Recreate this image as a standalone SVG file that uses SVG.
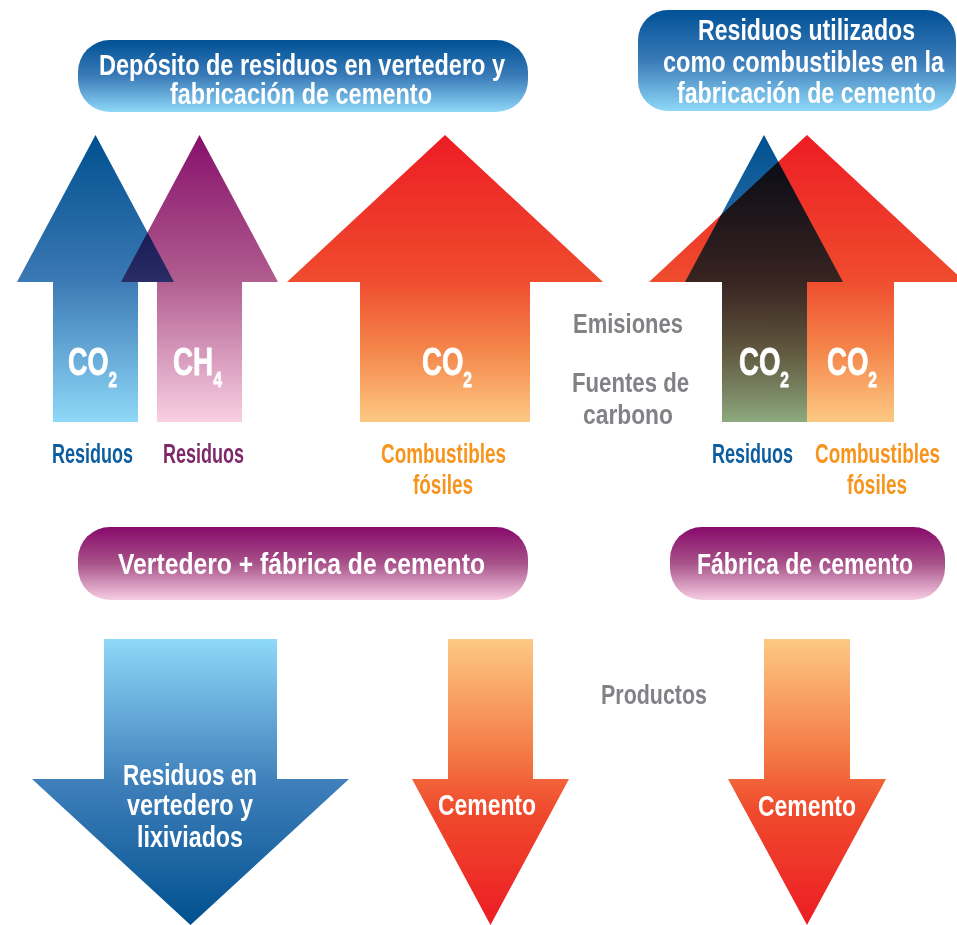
<svg xmlns="http://www.w3.org/2000/svg" width="957" height="925" viewBox="0 0 957 925">
<style>
text{font-family:"Liberation Sans",Arial,sans-serif;font-weight:bold;}
.pill{font-size:30px;fill:#ffffff;text-anchor:start;}
.lab{font-size:27px;}
.blue{fill:#0b5d9f;}
.purp{fill:#7d2868;}
.orng{fill:#f7941d;}
.gray{fill:#808285;}
.co{font-size:39px;fill:#ffffff;stroke:#ffffff;stroke-width:0.8;}
.sub{font-size:22px;}
.mul{mix-blend-mode:multiply;}
</style>
<defs>
<linearGradient id="gBluePill" x1="0" y1="0" x2="0" y2="1">
<stop offset="0" stop-color="#005196"/><stop offset="0.5" stop-color="#3a7bb8"/><stop offset="1" stop-color="#8ed8f8"/>
</linearGradient>
<linearGradient id="gPurpPill" x1="0" y1="0" x2="0" y2="1">
<stop offset="0" stop-color="#870a6a"/><stop offset="0.5" stop-color="#a8538a"/><stop offset="1" stop-color="#f7cde3"/>
</linearGradient>
<linearGradient id="gBlueUp" x1="0" y1="0" x2="0" y2="1">
<stop offset="0" stop-color="#00508f"/><stop offset="0.5" stop-color="#3a78b3"/><stop offset="1" stop-color="#8ed8f8"/>
</linearGradient>
<linearGradient id="gPurpUp" x1="0" y1="0" x2="0" y2="1">
<stop offset="0" stop-color="#86106b"/><stop offset="0.5" stop-color="#b05c8f"/><stop offset="1" stop-color="#f8cfe3"/>
</linearGradient>
<linearGradient id="gRedUp" x1="0" y1="0" x2="0" y2="1">
<stop offset="0" stop-color="#ed1c24"/><stop offset="0.5" stop-color="#ef4b2e"/><stop offset="0.75" stop-color="#f4864b"/><stop offset="1" stop-color="#fdc983"/>
</linearGradient>
<linearGradient id="gBlueDown" x1="0" y1="0" x2="0" y2="1">
<stop offset="0" stop-color="#8ed8f8"/><stop offset="0.5" stop-color="#3f80bb"/><stop offset="1" stop-color="#00508f"/>
</linearGradient>
<linearGradient id="gRedDown" x1="0" y1="0" x2="0" y2="1">
<stop offset="0" stop-color="#fdc983"/><stop offset="0.4" stop-color="#f47a45"/><stop offset="0.6" stop-color="#ef4a2d"/><stop offset="1" stop-color="#ed1c24"/>
</linearGradient>
</defs>
<rect width="957" height="925" fill="#ffffff"/>

<g id="pill-deposito">
<rect x="78" y="40" width="450" height="72" rx="32" fill="url(#gBluePill)"/>
<text class="pill" x="99" y="75" textLength="406" lengthAdjust="spacingAndGlyphs">Depósito de residuos en vertedero y</text>
<text class="pill" x="170" y="104" textLength="262" lengthAdjust="spacingAndGlyphs">fabricación de cemento</text>
</g>

<g id="pill-utilizados">
<rect x="638" y="10" width="318" height="101" rx="30" fill="url(#gBluePill)"/>
<text class="pill" x="698" y="40" textLength="217" lengthAdjust="spacingAndGlyphs">Residuos utilizados</text>
<text class="pill" x="663" y="72" textLength="281" lengthAdjust="spacingAndGlyphs">como combustibles en la</text>
<text class="pill" x="677" y="103" textLength="259" lengthAdjust="spacingAndGlyphs">fabricación de cemento</text>
</g>

<g id="arrow-ch4">
<path d="M199.5 135 L278 282 L242 282 L242 422 L157 422 L157 282 L121 282 Z" fill="url(#gPurpUp)"/>
</g>
<g id="arrow-co2-residuos-left">
<path class="mul" d="M95.5 135 L174 282 L138 282 L138 422 L53 422 L53 282 L17 282 Z" fill="url(#gBlueUp)"/>
</g>
<g id="arrow-co2-combustibles">
<path d="M445 135 L603 282 L530 282 L530 422 L360 422 L360 282 L287 282 Z" fill="url(#gRedUp)"/>
</g>
<g id="arrow-co2-combustibles-right">
<path d="M807 135 L965 282 L894 282 L894 422 L722 422 L722 282 L649 282 Z" fill="url(#gRedUp)"/>
</g>
<g id="arrow-co2-residuos-right">
<path class="mul" d="M764 135 L843 282 L807 282 L807 422 L722 422 L722 282 L685 282 Z" fill="url(#gBlueUp)"/>
</g>

<g id="gas-labels">
<text class="co" x="68" y="375" textLength="49" lengthAdjust="spacingAndGlyphs">CO<tspan class="sub" dy="12">2</tspan></text>
<text class="co" x="173" y="375" textLength="49" lengthAdjust="spacingAndGlyphs">CH<tspan class="sub" dy="12">4</tspan></text>
<text class="co" x="422" y="375" textLength="50" lengthAdjust="spacingAndGlyphs">CO<tspan class="sub" dy="12">2</tspan></text>
<text class="co" x="739" y="375" textLength="50" lengthAdjust="spacingAndGlyphs">CO<tspan class="sub" dy="12">2</tspan></text>
<text class="co" x="827" y="375" textLength="50" lengthAdjust="spacingAndGlyphs">CO<tspan class="sub" dy="12">2</tspan></text>
</g>

<g id="source-labels">
<text class="lab blue" x="52" y="463" textLength="81" lengthAdjust="spacingAndGlyphs">Residuos</text>
<text class="lab purp" x="163" y="463" textLength="81" lengthAdjust="spacingAndGlyphs">Residuos</text>
<text class="lab orng" x="381" y="463" textLength="125" lengthAdjust="spacingAndGlyphs">Combustibles</text>
<text class="lab orng" x="413" y="494" textLength="60" lengthAdjust="spacingAndGlyphs">fósiles</text>
<text class="lab blue" x="712" y="463" textLength="81" lengthAdjust="spacingAndGlyphs">Residuos</text>
<text class="lab orng" x="815" y="463" textLength="125" lengthAdjust="spacingAndGlyphs">Combustibles</text>
<text class="lab orng" x="847" y="494" textLength="60" lengthAdjust="spacingAndGlyphs">fósiles</text>
</g>

<g id="side-labels">
<text class="lab gray" x="573" y="333" textLength="110" lengthAdjust="spacingAndGlyphs">Emisiones</text>
<text class="lab gray" x="572" y="392" textLength="117" lengthAdjust="spacingAndGlyphs">Fuentes de</text>
<text class="lab gray" x="583" y="424" textLength="90" lengthAdjust="spacingAndGlyphs">carbono</text>
<text class="lab gray" x="601" y="704" textLength="106" lengthAdjust="spacingAndGlyphs">Productos</text>
</g>

<g id="pill-vertedero-fabrica">
<rect x="78" y="527" width="450" height="73" rx="32" fill="url(#gPurpPill)"/>
<text class="pill" x="118" y="574" textLength="367" lengthAdjust="spacingAndGlyphs">Vertedero + fábrica de cemento</text>
</g>
<g id="pill-fabrica">
<rect x="670" y="527" width="275" height="73" rx="32" fill="url(#gPurpPill)"/>
<text class="pill" x="697" y="574" textLength="216" lengthAdjust="spacingAndGlyphs">Fábrica de cemento</text>
</g>

<g id="arrow-residuos-vertedero">
<path d="M104 639 L277 639 L277 779 L349 779 L190.5 925 L32 779 L104 779 Z" fill="url(#gBlueDown)"/>
<text class="pill" x="123" y="785" textLength="134" lengthAdjust="spacingAndGlyphs">Residuos en</text>
<text class="pill" x="127" y="815" textLength="126" lengthAdjust="spacingAndGlyphs">vertedero y</text>
<text class="pill" x="137" y="847" textLength="106" lengthAdjust="spacingAndGlyphs">lixiviados</text>
</g>
<g id="arrow-cemento-mid">
<path d="M448 639 L533 639 L533 779 L569 779 L490.5 925 L412 779 L448 779 Z" fill="url(#gRedDown)"/>
<text class="pill" x="438" y="815" textLength="98" lengthAdjust="spacingAndGlyphs">Cemento</text>
</g>
<g id="arrow-cemento-right">
<path d="M764 639 L850 639 L850 779 L886 779 L807 925 L728 779 L764 779 Z" fill="url(#gRedDown)"/>
<text class="pill" x="758" y="816" textLength="98" lengthAdjust="spacingAndGlyphs">Cemento</text>
</g>
<g id="connectors"/>
</svg>
